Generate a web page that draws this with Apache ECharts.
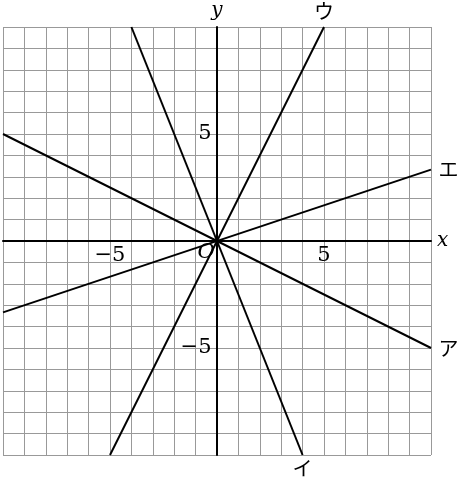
<!DOCTYPE html>
<html>
<head>
<meta charset="utf-8">
<script src="https://cdn.jsdelivr.net/npm/echarts@6/dist/echarts.min.js"></script>
<style>
  html, body { margin: 0; padding: 0; background: #fff; }
  #main { width: 462px; height: 480px; }
</style>
</head>
<body>
<div id="main"></div>
<script>
// axis range
var axisMin = -10;
var axisMax = 10;

// tick labels: value on the axis and text
var xTickValues = [-5, 5];
var xTickTexts = ['\u22125', '5'];
var yTickValues = [5, -5];
var yTickTexts = ['5', '\u22125'];

// four lines through the origin, endpoints on the grid border
var lineNames = ['ア', 'イ', 'ウ', 'エ'];
var lineStart = [[-10, 5], [-4, 10], [-5, -10], [-10, -10 / 3]];
var lineEnd = [[10, -5], [4, -10], [5, 10], [10, 10 / 3]];
var labelPos = ['right', 'bottom', 'top', 'right'];
var labelGap = [7, 3, 5, 7];

var myChart = echarts.init(document.getElementById('main'));

var serif = 'DejaVu Serif';
var jp = 'Noto Sans CJK JP';

function axisCommon(name, gap) {
    return {
        type: 'value',
        min: axisMin,
        max: axisMax,
        interval: 1,
        name: name,
        nameLocation: 'end',
        nameGap: gap,
        nameTextStyle: { fontFamily: serif, fontStyle: 'italic', fontSize: 20, color: '#000' },
        axisLine: { show: true, onZero: true, lineStyle: { color: '#000', width: 2 } },
        axisTick: { show: false },
        axisLabel: { show: false },
        splitLine: { show: true, lineStyle: { color: '#999', width: 1 } }
    };
}

// invisible points that only carry a text label
function textPoints(points, texts, lbl) {
    return {
        type: 'scatter',
        data: points.map(function (p, i) { return { value: p, name: texts[i] }; }),
        symbolSize: 1,
        itemStyle: { color: '#000', opacity: 0 },
        clip: false,
        silent: true,
        z: 5,
        label: {
            show: true,
            formatter: '{b}',
            color: '#000',
            opacity: 1,
            position: lbl.position,
            distance: lbl.distance,
            offset: lbl.offset,
            fontFamily: lbl.fontFamily,
            fontStyle: lbl.fontStyle || 'normal',
            fontSize: lbl.fontSize
        }
    };
}

var series = [];
lineNames.forEach(function (n, i) {
    series.push({
        type: 'line',
        name: n,
        data: [lineStart[i], lineEnd[i]],
        symbol: 'none',
        lineStyle: { color: '#000', width: 2 },
        z: 3
    });
    series.push(textPoints([lineEnd[i]], [n], {
        position: labelPos[i], distance: labelGap[i], fontFamily: jp, fontSize: 20
    }));
});

// tick labels on the axes
series.push(textPoints(xTickValues.map(function (v) { return [v, 0]; }), xTickTexts, {
    position: 'bottom', distance: 4, fontFamily: serif, fontSize: 21
}));
series.push(textPoints(yTickValues.map(function (v) { return [0, v]; }), yTickTexts, {
    position: 'left', distance: 5, fontFamily: serif, fontSize: 21
}));

// origin label
series.push(textPoints([[0, 0]], ['O'], {
    position: 'inside', offset: [-11, 12], fontFamily: serif, fontStyle: 'italic', fontSize: 21
}));

var option = {
    animation: false,
    backgroundColor: '#fff',
    grid: { left: 3, right: 31, top: 27, bottom: 25, containLabel: false, outerBoundsMode: 'none' },
    xAxis: axisCommon('x', 6),
    yAxis: axisCommon('y', 6),
    series: series
};

myChart.setOption(option);
</script>
</body>
</html>
